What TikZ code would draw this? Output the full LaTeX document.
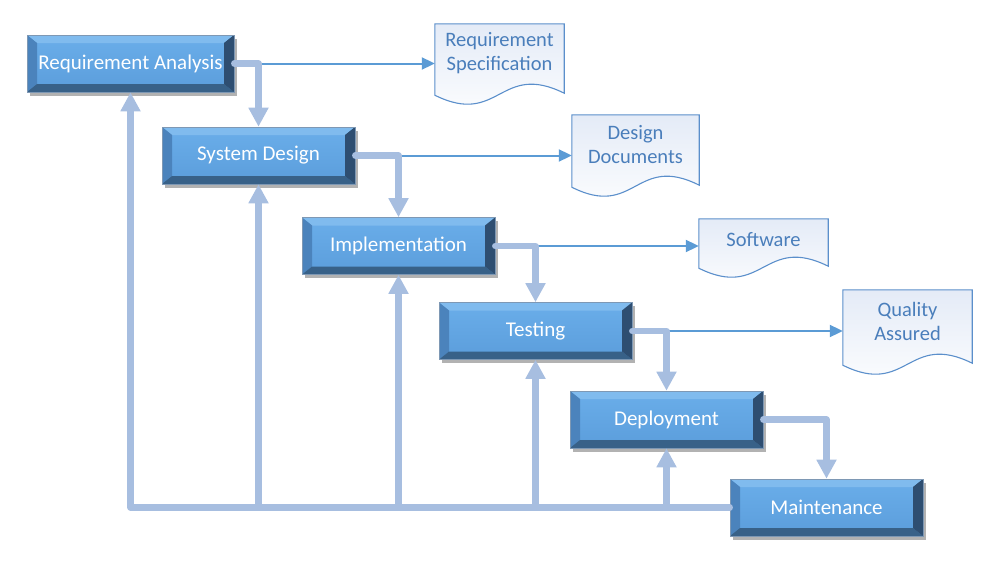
\documentclass[tikz,border=0pt]{standalone}
\usepackage{fontspec}
\setmainfont{Carlito}
\usetikzlibrary{calc,arrows.meta,shadows}
\definecolor{boxmid}{HTML}{5B9DDB}
\definecolor{boxhi}{HTML}{6AAEEA}
\definecolor{bevtop}{HTML}{80BBEE}
\definecolor{bevleft}{HTML}{4B83BC}
\definecolor{bevbot}{HTML}{386188}
\definecolor{bevright}{HTML}{2E4E71}
\definecolor{boxedge}{HTML}{7E98B4}
\definecolor{flowc}{HTML}{A7BEE0}
\definecolor{outc}{HTML}{5B9BD5}
\definecolor{docline}{HTML}{5B8FCB}
\definecolor{doctext}{HTML}{4A7EBB}
\definecolor{docfill}{HTML}{E4EBF7}
\newcommand{\docoutline}[2]{%
  \draw[docshape] (#1.north west) -- (#1.north east) -- ($(#1.south east)+(0,2pt)$)
    .. controls ($(#1.south east)+(-#2pt,34pt)$) and ($(#1.south west)+(#2pt,-32pt)$) .. (#1.south west) -- cycle;}
\begin{document}
\begin{tikzpicture}[x=1pt,y=-1pt,
  stage/.style={rectangle, minimum width=193pt, minimum height=57pt, inner sep=0pt,
    fill=boxmid, draw=boxedge, line width=0.6pt, text=white,
    font=\fontsize{21}{25}\selectfont,
    drop shadow={shadow xshift=3pt, shadow yshift=-3.5pt, opacity=0.3, fill=black},
    path picture={
      \shade[top color=boxhi, bottom color=boxmid]
        ($(path picture bounding box.north west)+(10pt,-8pt)$) rectangle
        ($(path picture bounding box.south east)+(-10pt,8pt)$);
      \fill[bevtop] (path picture bounding box.north west) -- (path picture bounding box.north east)
        -- ($(path picture bounding box.north east)+(-10pt,-8pt)$)
        -- ($(path picture bounding box.north west)+(10pt,-8pt)$) -- cycle;
      \fill[bevleft] (path picture bounding box.north west) -- ($(path picture bounding box.north west)+(10pt,-8pt)$)
        -- ($(path picture bounding box.south west)+(10pt,8pt)$)
        -- (path picture bounding box.south west) -- cycle;
      \fill[bevbot] (path picture bounding box.south west) -- ($(path picture bounding box.south west)+(10pt,8pt)$)
        -- ($(path picture bounding box.south east)+(-10pt,8pt)$)
        -- (path picture bounding box.south east) -- cycle;
      \fill[bevright] (path picture bounding box.north east) -- ($(path picture bounding box.north east)+(-10pt,-8pt)$)
        -- ($(path picture bounding box.south east)+(-10pt,8pt)$)
        -- (path picture bounding box.south east) -- cycle;
    }},
  docbox/.style={rectangle, minimum width=129pt, inner sep=0pt},
  doctxt/.style={text=doctext, align=center, inner sep=0pt, font=\fontsize{20.5}{24}\selectfont},
  docshape/.style={draw=docline, line width=1.1pt, top color=docfill, bottom color=white},
  flow/.style={draw=flowc, line width=6.5pt, line cap=round, line join=round,
    -{Triangle[width=19pt,length=19pt]}},
  outarrow/.style={draw=outc, line width=2pt, -{Triangle[width=12pt,length=13pt]}}
]
\useasboundingbox (0,0) rectangle (999,562);

% process boxes
\node[stage, minimum width=207pt] (ra) at (130.5,63.5) {Requirement Analysis};
\node[stage] (sd) at (258.5,155.5) {System Design};
\node[stage] (im) at (398.5,246) {Implementation};
\node[stage] (ts) at (535.5,331) {Testing};
\node[stage] (dp) at (666.5,419.5) {Deployment};
\node[stage] (mt) at (826.5,507.5) {Maintenance};

% documents
\node[docbox, minimum height=71pt] (rs) at (499.5,59.5) {};
\node[docbox, minimum width=127pt, minimum height=72pt] (dd) at (635.5,151) {};
\node[docbox, minimum height=49pt] (sw) at (763.5,243.5) {};
\node[docbox, minimum height=75pt] (qa) at (907.5,327.5) {};
\docoutline{rs}{64.5}
\docoutline{dd}{63.5}
\docoutline{sw}{64.5}
\docoutline{qa}{64.5}
\node[doctxt] (rst) at (499.5,53) {Requirement\\Specification};
\node[doctxt] (ddt) at (635.5,145) {Design\\Documents};
\node[doctxt] (swt) at (763.5,240) {Software};
\node[doctxt] (qat) at (907.5,321) {Quality\\Assured};

% outputs
\draw[outarrow] (ra.east) -- (ra.east -| rs.west);
\draw[outarrow] (sd.east) -- (sd.east -| dd.west);
\draw[outarrow] (im.east) -- (im.east -| sw.west);
\draw[outarrow] (ts.east) -- (ts.east -| qa.west);

% forward flow
\draw[flow] (ra.east) -| (sd.north);
\draw[flow] (sd.east) -| (im.north);
\draw[flow] (im.east) -| (ts.north);
\draw[flow] (ts.east) -| (dp.north);
\draw[flow] (dp.east) -| (mt.north);

% feedback
\draw[flow] (mt.west) -| (ra.south);
\draw[flow] (sd.south |- mt.west) -- (sd.south);
\draw[flow] (im.south |- mt.west) -- (im.south);
\draw[flow] (ts.south |- mt.west) -- (ts.south);
\draw[flow] (dp.south |- mt.west) -- (dp.south);
\end{tikzpicture}
\end{document}
